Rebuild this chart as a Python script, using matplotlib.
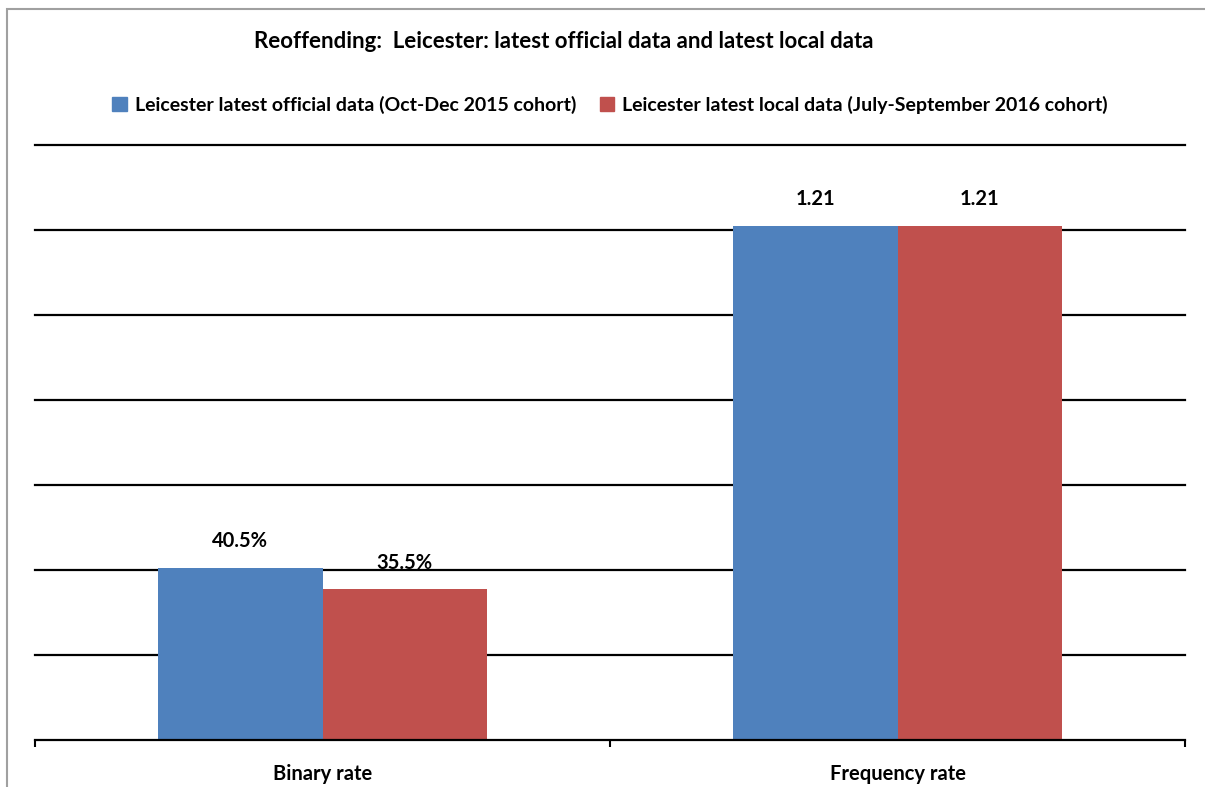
import matplotlib.pyplot as plt
import matplotlib.patches as mpatches
import numpy as np

categories = ['Binary rate', 'Frequency rate']
official = [0.405, 1.21]
local = [0.355, 1.21]
official_labels = ['40.5%', '1.21']
local_labels = ['35.5%', '1.21']
series_names = ['Leicester latest official data (Oct-Dec 2015 cohort)',
                'Leicester latest local data (July-September 2016 cohort)']

blue = '#4F81BD'
red = '#C0504D'

plt.rcParams['font.family'] = ['Lato', 'DejaVu Sans']
plt.rcParams['font.weight'] = 'bold'

fig = plt.figure(figsize=(12.05, 7.87), dpi=100)
W, H = 1205, 787
ax = fig.add_axes([35 / W, 1 - 740 / H, 1150 / W, 595 / H])

x = np.arange(len(categories))
width = 0.286
b1 = ax.bar(x - width / 2, official, width, color=blue, zorder=2, label=series_names[0])
b2 = ax.bar(x + width / 2, local, width, color=red, zorder=2, label=series_names[1])

# value labels sit a fixed distance above each bar
for bars, labels in [(b1, official_labels), (b2, local_labels)]:
    for rect, lab in zip(bars, labels):
        ax.annotate(lab, (rect.get_x() + rect.get_width() / 2, rect.get_height()),
                    xytext=(0, 19), textcoords='offset points', ha='center', va='center',
                    fontsize=14.5, fontweight='bold', zorder=3)

ax.set_xlim(-0.5, 1.5)
ax.set_ylim(0, 1.4)
ax.set_yticks(np.arange(0.2, 1.41, 0.2))
ax.yaxis.grid(True, color='black', linewidth=1.6, zorder=0)
for gl in ax.get_ygridlines():
    gl.set_clip_on(False)
ax.tick_params(axis='y', left=False, labelleft=False)

# category boundaries carry the tick marks, names sit in between
ax.set_xticks([-0.5, 0.5, 1.5])
ax.set_xticklabels([])
ax.tick_params(axis='x', direction='out', length=5, width=1.5, color='black')
ax.set_xticks(x, minor=True)
ax.set_xticklabels(categories, minor=True, fontsize=14.5, fontweight='bold')
ax.tick_params(axis='x', which='minor', length=0, pad=17)

for side in ['left', 'right', 'top']:
    ax.spines[side].set_visible(False)
ax.spines['bottom'].set_linewidth(1.6)
ax.set_axisbelow(True)

fig.text(564 / W, 1 - 42 / H, 'Reoffending:  Leicester: latest official data and latest local data',
         ha='center', va='center', fontsize=16, fontweight='bold')

handles = [mpatches.Patch(color=blue), mpatches.Patch(color=red)]
fig.legend(handles, series_names, loc='center', bbox_to_anchor=(610 / W, 1 - 105 / H),
           ncol=2, frameon=False, handlelength=0.75, handleheight=0.75,
           handletextpad=0.4, columnspacing=1.2, prop={'weight': 'bold', 'size': 14})

# outer chart border
fig.patches.append(mpatches.Rectangle((7 / W, -0.1), 1.2, 1 - 9 / H + 0.1,
                                      transform=fig.transFigure, fill=False,
                                      edgecolor='#A0A0A0', linewidth=1.5))

fig.savefig('out.png', dpi=100)
